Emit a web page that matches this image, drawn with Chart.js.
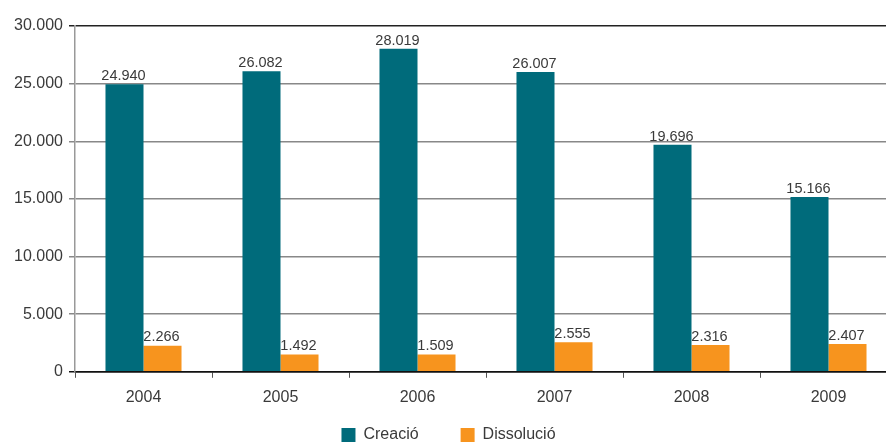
<!DOCTYPE html>
<html><head><meta charset="utf-8">
<script src="https://cdn.jsdelivr.net/npm/chart.js@4/dist/chart.umd.min.js"></script>
<style>html,body{margin:0;padding:0;background:#fff;overflow:hidden}#wrap{width:886px;height:444px;overflow:hidden;position:relative}</style>
</head><body><div id="wrap"><canvas id="c" width="900" height="453"></canvas></div>
<script>
const categories = ['2004','2005','2006','2007','2008','2009'];
const creacio = [24940, 26082, 28019, 26007, 19696, 15166];
const dissolucio = [2266, 1492, 1509, 2555, 2316, 2407];
const seriesNames = ['Creació', 'Dissolució'];
const yTicks = [0, 5000, 10000, 15000, 20000, 25000, 30000];

const fmt = v => v.toString().replace(/\B(?=(\d{3})+(?!\d))/g, '.');
const FONT = '"Liberation Sans", Arial, sans-serif';

const labelPlugin = {
  id: 'vlabels',
  afterDatasetsDraw(chart) {
    const ctx = chart.ctx;
    ctx.save();
    ctx.font = '14.5px ' + FONT;
    ctx.fillStyle = '#3a3a3a';
    ctx.textAlign = 'center';
    ctx.textBaseline = 'bottom';
    chart.data.datasets.forEach((ds, i) => {
      chart.getDatasetMeta(i).data.forEach((bar, j) => {
        ctx.fillText(fmt(ds.data[j]), bar.x - 1, bar.y - 1);
      });
    });
    ctx.restore();
  }
};

new Chart(document.getElementById('c'), {
  type: 'bar',
  data: {
    labels: categories,
    datasets: [
      { label: seriesNames[0], data: creacio, backgroundColor: '#006b7b' },
      { label: seriesNames[1], data: dissolucio, backgroundColor: '#f7941e' }
    ]
  },
  options: {
    responsive: false,
    animation: false,
    devicePixelRatio: 1,
    layout: { padding: { top: 26, right: 3, left: 0, bottom: 0 } },
    datasets: { bar: { categoryPercentage: 0.555, barPercentage: 1.0 } },
    plugins: {
      legend: {
        position: 'bottom',
        labels: {
          boxWidth: 14, boxHeight: 14, padding: 10, color: '#3a3a3a', font: { family: FONT, size: 16 },
          generateLabels: chart => {
            const items = Chart.defaults.plugins.legend.labels.generateLabels(chart);
            items.forEach((it, i) => { it.lineWidth = 0; if (i === 0) it.text = it.text + '\u2003\u2003'; });
            return items;
          }
        }
      },
      tooltip: { enabled: false }
    },
    scales: {
      x: {
        grid: { display: true, drawOnChartArea: false, tickLength: 6, color: '#555', offset: true },
        border: { color: '#111', width: 1.5 },
        ticks: { color: '#3a3a3a', font: { family: FONT, size: 16 }, padding: 10 }
      },
      y: {
        min: 0, max: 30000,
        afterBuildTicks: s => { s.ticks = yTicks.map(v => ({ value: v })); },
        afterFit: s => { s.width = 75; },
        grid: {
          tickLength: 6,
          color: c => (c.tick && c.tick.value === 30000) ? '#222' : (c.tick && c.tick.value === 0 ? '#111' : '#888'),
          lineWidth: 1.5
        },
        border: { color: '#999', width: 1.5 },
        ticks: { color: '#3a3a3a', font: { family: FONT, size: 16 }, padding: 6, callback: v => fmt(v) }
      }
    }
  },
  plugins: [labelPlugin]
});
</script></body></html>
